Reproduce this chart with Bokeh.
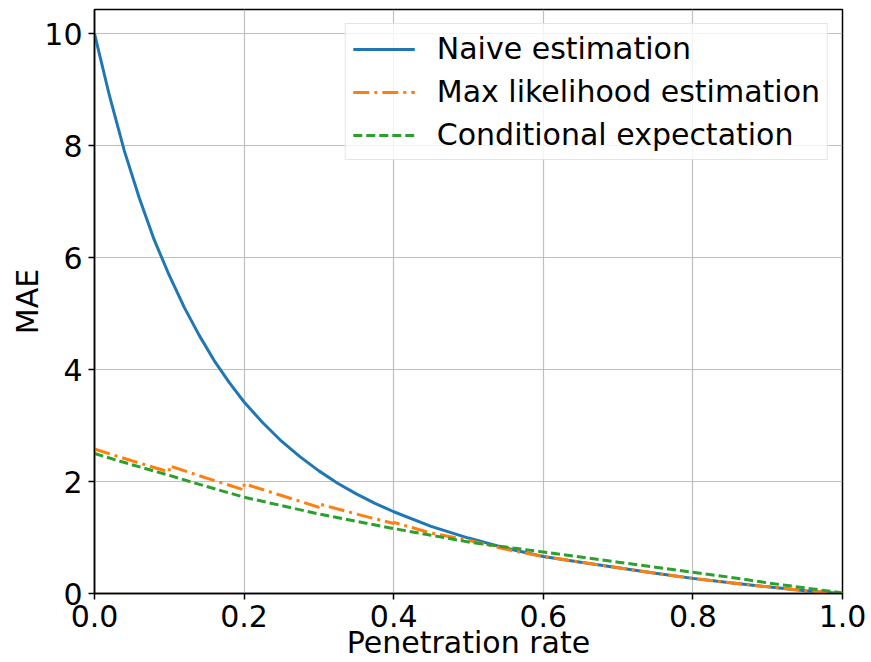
from bokeh.plotting import figure
from bokeh.models import FixedTicker, PrintfTickFormatter, Legend, LegendItem, Range1d
from bokeh.embed import file_html
from bokeh.resources import INLINE

# Naive estimation
naive_x = [0.0, 0.02, 0.04, 0.06, 0.08, 0.10, 0.12, 0.14, 0.16, 0.18, 0.20, 0.225, 0.25,
           0.275, 0.3, 0.325, 0.35, 0.375, 0.4, 0.45, 0.5, 0.55, 0.6, 0.65, 0.7, 0.75,
           0.8, 0.85, 0.9, 0.95, 1.0]
naive_y = [10.0, 8.89, 7.90, 7.06, 6.31, 5.68, 5.11, 4.61, 4.16, 3.77, 3.42, 3.05, 2.72,
           2.44, 2.19, 1.97, 1.78, 1.61, 1.46, 1.20, 0.99, 0.81, 0.66, 0.56, 0.46, 0.36,
           0.27, 0.19, 0.12, 0.05, 0.0]

# Max likelihood estimation (saw-tooth, with jumps)
mle_x = [0.0, 0.05, 0.0999, 0.1, 0.15, 0.1999, 0.2, 0.25, 0.2999, 0.3, 0.35, 0.3999, 0.4,
         0.45, 0.5, 0.55, 0.6, 0.65, 0.7, 0.75, 0.8, 0.85, 0.9, 0.95, 1.0]
mle_y = [2.58, 2.37, 2.17, 2.28, 2.06, 1.85, 1.96, 1.75, 1.54, 1.60, 1.42, 1.25, 1.27,
         1.08, 0.95, 0.79, 0.66, 0.56, 0.46, 0.36, 0.27, 0.19, 0.12, 0.05, 0.0]

# Conditional expectation
cond_x = [0.0, 0.05, 0.1, 0.15, 0.2, 0.25, 0.3, 0.35, 0.4, 0.45, 0.5, 0.55, 0.6,
          0.65, 0.7, 0.75, 0.8, 0.85, 0.9, 0.95, 1.0]
cond_y = [2.50, 2.30, 2.11, 1.91, 1.72, 1.57, 1.42, 1.29, 1.16, 1.04, 0.92, 0.83, 0.74,
          0.65, 0.56, 0.47, 0.38, 0.29, 0.19, 0.10, 0.01]

x_ticks = [0.0, 0.2, 0.4, 0.6, 0.8, 1.0]
y_ticks = [0, 2, 4, 6, 8, 10]
labels = ["Naive estimation", "Max likelihood estimation", "Conditional expectation"]

FONT = "DejaVu Sans"
FS = "30px"

p = figure(width=871, height=662, output_backend="svg", toolbar_location=None,
           x_range=Range1d(0, 1), y_range=Range1d(0, 10.43),
           min_border_left=94, min_border_right=29, min_border_top=9, min_border_bottom=69)
p.background_fill_color = "white"
p.border_fill_color = "white"
p.outline_line_color = "black"
p.outline_line_width = 1.5

r1 = p.line(naive_x, naive_y, line_color="#1f77b4", line_width=3)
r2 = p.line(mle_x, mle_y, line_color="#ff7f0e", line_width=3, line_dash="16 5 3 5")
r3 = p.line(cond_x, cond_y, line_color="#2ca02c", line_width=3, line_dash="9 4")

for ax in (p.xaxis[0], p.yaxis[0]):
    ax.axis_line_color = "black"
    ax.axis_line_width = 1.5
    ax.major_tick_out = 6
    ax.major_tick_in = 0
    ax.major_tick_line_width = 1.5
    ax.minor_tick_line_color = None
    ax.major_label_text_font = FONT
    ax.major_label_text_font_size = FS
    ax.major_label_text_color = "black"
    ax.axis_label_text_font = FONT
    ax.axis_label_text_font_size = FS
    ax.axis_label_text_font_style = "normal"
    ax.axis_label_text_color = "black"

p.xaxis[0].ticker = FixedTicker(ticks=x_ticks)
p.yaxis[0].ticker = FixedTicker(ticks=y_ticks)
p.xaxis[0].formatter = PrintfTickFormatter(format="%.1f")
p.yaxis[0].formatter = PrintfTickFormatter(format="%d")
p.xaxis[0].axis_label = "Penetration rate"
p.yaxis[0].axis_label = "MAE"
p.xaxis[0].major_label_standoff = 5
p.yaxis[0].major_label_standoff = 6
p.xaxis[0].axis_label_standoff = -5
p.yaxis[0].axis_label_standoff = -4

p.grid.grid_line_color = "#b0b0b0"
p.grid.grid_line_width = 1.2
p.grid.grid_line_alpha = 0.8

legend = Legend(items=[LegendItem(label=labels[0], renderers=[r1]),
                       LegendItem(label=labels[1], renderers=[r2]),
                       LegendItem(label=labels[2], renderers=[r3])],
                location="top_right")
legend.margin = 14
legend.padding = 7
legend.spacing = 8
legend.glyph_width = 62
legend.glyph_height = 32
legend.label_height = 32
legend.label_standoff = 22
legend.label_text_font = FONT
legend.label_text_font_size = FS
legend.label_text_color = "black"
legend.border_line_color = "#cccccc"
legend.border_line_width = 1
legend.background_fill_alpha = 0.8
p.add_layout(legend)

open("out.html", "w").write(file_html(p, INLINE))
